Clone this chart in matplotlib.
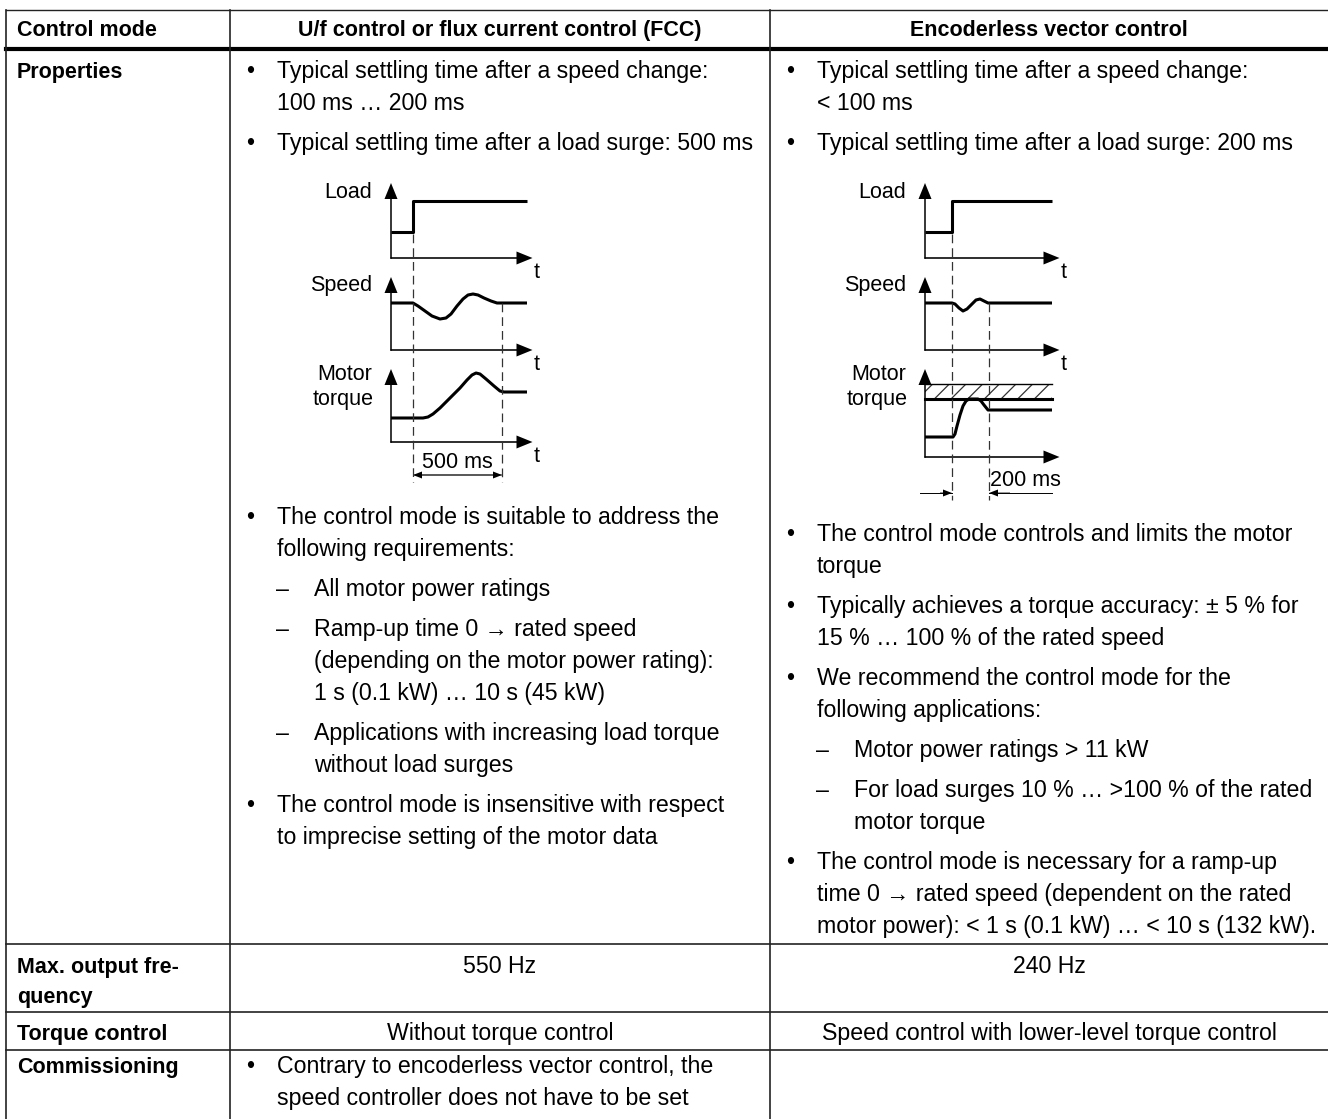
import matplotlib
matplotlib.use("Agg")
import matplotlib.pyplot as plt

FONT = ["Liberation Sans", "DejaVu Sans"]
FS = 16.7       # body text
FS_BOLD = 15.5  # header and first column
FS_DIA = 15.5   # sketch labels

# table text
header = ["Control mode", "U/f control or flux current control (FCC)", "Encoderless vector control"]
row_labels = [["Properties"], ["Max. output fre-", "quency"], ["Torque control"], ["Commissioning"]]

fcc_top = [
    (0, ["Typical settling time after a speed change:", "100 ms \u2026 200 ms"]),
    (0, ["Typical settling time after a load surge: 500 ms"]),
]
fcc_bottom = [
    (0, ["The control mode is suitable to address the", "following requirements:"]),
    (1, ["All motor power ratings"]),
    (1, ["Ramp-up time 0 \u2192 rated speed", "(depending on the motor power rating):", "1 s (0.1 kW) \u2026 10 s (45 kW)"]),
    (1, ["Applications with increasing load torque", "without load surges"]),
    (0, ["The control mode is insensitive with respect", "to imprecise setting of the motor data"]),
]
vec_top = [
    (0, ["Typical settling time after a speed change:", "< 100 ms"]),
    (0, ["Typical settling time after a load surge: 200 ms"]),
]
vec_bottom = [
    (0, ["The control mode controls and limits the motor", "torque"]),
    (0, ["Typically achieves a torque accuracy: \u00b1 5 % for", "15 % \u2026 100 % of the rated speed"]),
    (0, ["We recommend the control mode for the", "following applications:"]),
    (1, ["Motor power ratings > 11 kW"]),
    (1, ["For load surges 10 % \u2026 >100 % of the rated", "motor torque"]),
    (0, ["The control mode is necessary for a ramp-up",
         "time 0 \u2192 rated speed (dependent on the rated",
         "motor power): < 1 s (0.1 kW) \u2026 < 10 s (132 kW)."]),
]
max_freq = ["550 Hz", "240 Hz"]
torque_ctrl = ["Without torque control", "Speed control with lower-level torque control"]
commissioning = [(0, ["Contrary to encoderless vector control, the", "speed controller does not have to be set"])]

# step-response sketches: time offset / level above the t axis (diagram units)
fcc_load_t = [0, 22, 22, 136]
fcc_load_v = [26, 26, 57, 57]
fcc_speed_t = [0, 22, 27, 34, 41, 49, 55, 60, 66, 72, 77, 82, 87, 93, 100, 106, 111, 136]
fcc_speed_v = [47, 47, 44, 39, 34, 31, 32, 36, 44, 51, 55, 56, 55, 52, 49, 47, 47, 47]
fcc_torque_t = [0, 32, 37, 42, 49, 59, 69, 76, 81, 85, 89, 95, 103, 109, 113, 136]
fcc_torque_v = [24, 24, 25, 28, 34, 44, 54, 62, 67, 69, 68, 63, 56, 51, 50, 50]
fcc_marks = [22, 111]

vec_load_t = [0, 27, 27, 127]
vec_load_v = [26, 26, 57, 57]
vec_speed_t = [0, 27, 30, 34, 38, 42, 46, 51, 55, 59, 63, 127]
vec_speed_v = [47, 47, 46, 42, 39, 41, 45, 50, 51, 49, 47, 47]
vec_torque_t = [0, 28, 30, 32, 35, 38, 41, 44, 53, 56, 59, 63, 127]
vec_torque_v = [20, 20, 23, 31, 42, 51, 56, 58, 58, 56, 52, 47, 47]
vec_limit = [58, 73]
vec_marks = [27, 64]

W, H = 1328, 1119
fig = plt.figure(figsize=(W / 100, H / 100), dpi=100)
ax = fig.add_axes([0, 0, 1, 1])
ax.set_xlim(0, W)
ax.set_ylim(H, 0)
ax.axis("off")
plt.rcParams["hatch.linewidth"] = 0.9

LINE = 32
PARA = 40
cols = [6, 230, 770, W]
rows = [10, 49, 944, 1012, 1050]
grid = "#222222"


def txt(x, y, s, bold=False, ha="left", va="baseline", size=None):
    if size is None:
        size = FS_BOLD if bold else FS
    ax.text(x, y, s, fontsize=size, family=FONT, fontweight="bold" if bold else "normal",
            ha=ha, va=va, color="black")


def cell_items(left, y, items):
    first = True
    for level, lines in items:
        if not first:
            y += PARA
        first = False
        if level == 0:
            txt(left + 20, y, "\u2022", ha="center")
            x = left + 47
        else:
            txt(left + 53, y, "\u2013", ha="center")
            x = left + 84
        for i, line in enumerate(lines):
            if i > 0:
                y += LINE
            txt(x, y, line)
    return y


# grid
ax.plot([cols[0], W], [rows[0], rows[0]], color=grid, lw=1.0)
ax.plot([cols[0], W], [rows[1], rows[1]], color="black", lw=3.0)
for r in rows[2:]:
    ax.plot([cols[0], W], [r, r], color=grid, lw=1.2)
for c in cols[:3]:
    ax.plot([c, c], [rows[0], H], color=grid, lw=1.2)

# header
txt(cols[0] + 11, 36, header[0], bold=True)
txt((cols[1] + cols[2]) / 2, 36, header[1], bold=True, ha="center")
txt((cols[2] + cols[3]) / 2, 36, header[2], bold=True, ha="center")

# first column labels
label_y = [78, 973, 1040, 1073]
for lines, y in zip(row_labels, label_y):
    for i, line in enumerate(lines):
        txt(cols[0] + 11, y + i * 30, line, bold=True)

cell_items(cols[1], 78, fcc_top)
cell_items(cols[1], 524, fcc_bottom)
cell_items(cols[2], 78, vec_top)
cell_items(cols[2], 541, vec_bottom)

txt((cols[1] + cols[2]) / 2, 973, max_freq[0], ha="center")
txt((cols[2] + cols[3]) / 2, 973, max_freq[1], ha="center")
txt((cols[1] + cols[2]) / 2, 1040, torque_ctrl[0], ha="center")
txt((cols[2] + cols[3]) / 2, 1040, torque_ctrl[1], ha="center")
cell_items(cols[1], 1073, commissioning)


def arrow(x, y, dx, dy, big=True):
    if big:
        ax.arrow(x, y, dx, dy, width=1.6, head_width=13, head_length=16,
                 length_includes_head=True, fc="black", ec="none")
    else:
        ax.arrow(x, y, dx, dy, width=0.8, head_width=7, head_length=9,
                 length_includes_head=True, fc="black", ec="none")


def diagram(x0, bases, heights, t_len, curves, marks, dash_bottom, t_labels, limit=None):
    names = [["Load"], ["Speed"], ["Motor", "torque"]]
    for base, h, name, show_t in zip(bases, heights, names, t_labels):
        ax.plot([x0, x0], [base, base - h + 14], color="black", lw=1.1)
        arrow(x0, base - h + 16, 0, -16)
        arrow(x0 - 0.5, base, t_len, 0)
        if len(name) == 1:
            txt(x0 - 19, base - h + 9, name[0], ha="right", va="center", size=FS_DIA)
        else:
            txt(x0 - 19, base - h + 5, name[0], ha="right", va="center", size=FS_DIA)
            txt(x0 - 17, base - h + 31, name[1], ha="right", va="center", size=FS_DIA)
        if show_t:
            txt(x0 + t_len + 4, base + 15, "t", ha="center", va="center", size=FS_DIA)
    if limit is not None:
        ax.fill_between([x0, x0 + curves[0][0][-1]], bases[2] - limit[0], bases[2] - limit[1],
                        facecolor="none", edgecolor="#333333", hatch="//", lw=0)
        ax.plot([x0, x0 + curves[0][0][-1]], [bases[2] - limit[1]] * 2, color="black", lw=1.0)
        ax.plot([x0, x0 + curves[0][0][-1]], [bases[2] - limit[0]] * 2, color="black", lw=2.2)
    for (t, v), base in zip(curves, bases):
        ax.plot([x0 + a for a in t], [base - b for b in v], color="black", lw=2.2,
                solid_joinstyle="round", solid_capstyle="butt")
    ax.plot([x0 + marks[0]] * 2, [bases[0] - 24, dash_bottom], color="#333333", lw=0.9,
            dashes=(7, 4))
    ax.plot([x0 + marks[1]] * 2, [bases[1] - 47, dash_bottom], color="#333333", lw=0.9,
            dashes=(7, 4))


diagram(391, [258, 350, 442], [75, 73, 73], 142,
        [(fcc_load_t, fcc_load_v), (fcc_speed_t, fcc_speed_v), (fcc_torque_t, fcc_torque_v)],
        fcc_marks, 482, [True, True, True])
arrow(391 + fcc_marks[0], 475, fcc_marks[1] - fcc_marks[0], 0, big=False)
arrow(391 + fcc_marks[1], 475, fcc_marks[0] - fcc_marks[1], 0, big=False)
txt(391 + (fcc_marks[0] + fcc_marks[1]) / 2, 463, "500 ms", ha="center", va="center", size=FS_DIA)

diagram(925, [258, 350, 457], [75, 73, 88], 135,
        [(vec_load_t, vec_load_v), (vec_speed_t, vec_speed_v), (vec_torque_t, vec_torque_v)],
        vec_marks, 500, [True, True, False], limit=vec_limit)
ax.plot([920, 925 + vec_marks[0]], [493, 493], color="black", lw=0.7)
arrow(940, 493, 925 + vec_marks[0] - 940, 0, big=False)
ax.plot([925 + vec_marks[1], 1052], [493, 493], color="black", lw=0.7)
arrow(1010, 493, 925 + vec_marks[1] - 1010, 0, big=False)
txt(925 + vec_marks[1] + 1, 480, "200 ms", ha="left", va="center", size=FS_DIA)

fig.savefig("out.png", dpi=100)
